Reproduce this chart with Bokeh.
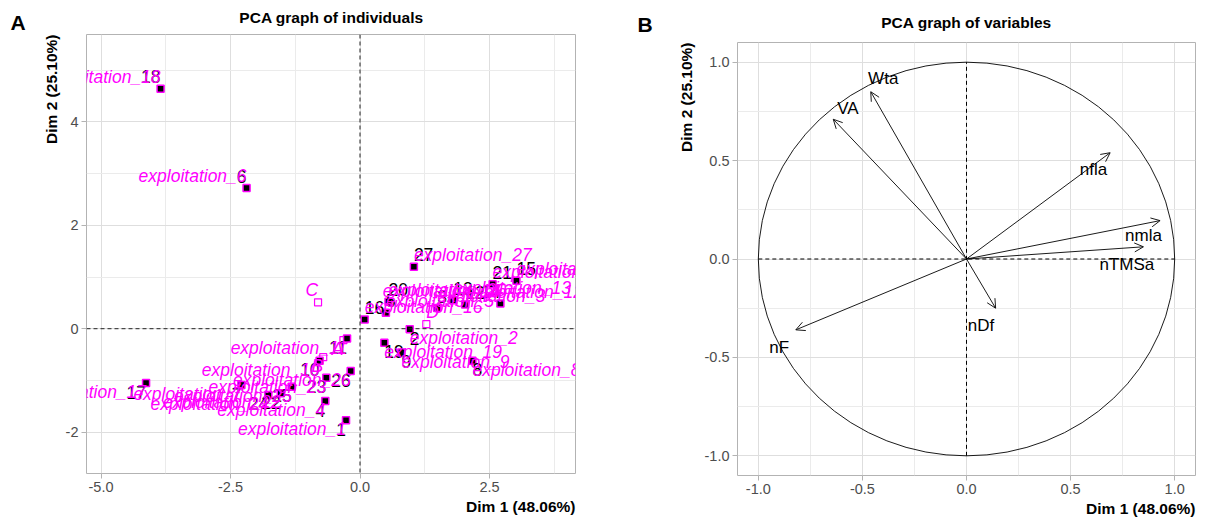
from bokeh.plotting import figure
from bokeh.models import (ColumnDataSource, Span, Title, FixedTicker, Arrow, OpenHead,
                          NumeralTickFormatter, Range1d)
from bokeh.layouts import row, column
from bokeh.embed import file_html
from bokeh.resources import INLINE
from bokeh.core.properties import value, field

# ---------------- data: individuals (PCA coordinates) ----------------
ind_ids = ["1", "2", "3", "4", "5", "6", "7", "8", "9", "10", "11", "12", "13", "14",
           "15", "16", "17", "18", "19", "20", "21", "22", "23", "24", "25", "26", "27"]
ind_dim1 = [-0.27, 0.96, 1.49, -0.67, 0.50, -2.19, -2.29, 2.17, 0.80, -0.78, -0.25, 2.03, 1.80, 2.71,
            3.02, 0.09, -4.13, -3.85, 0.47, 0.55, 2.56, -1.53, -0.65, -1.77, -1.32, -0.18, 1.04]
ind_dim2 = [-1.77, -0.01, 0.40, -1.40, 0.31, 2.72, -1.09, -0.62, -0.46, -0.62, -0.19, 0.47, 0.55, 0.49,
            0.93, 0.18, -1.05, 4.64, -0.27, 0.52, 0.86, -1.25, -0.95, -1.28, -1.12, -0.82, 1.20]
ind_label_side = ["below", "below", "above", "below", "above", "above", "below", "below", "below",
                  "below", "below", "above", "above", "above", "above", "above", "below", "above",
                  "below", "above", "above", "below", "below", "below", "below", "below", "above"]
ind_label_align = ["right", "left", "left", "right", "left", "right", "right", "left", "left",
                   "right", "right", "left", "left", "right", "left", "left", "right", "right",
                   "left", "left", "left", "right", "right", "right", "right", "right", "left"]

sup_ids = ["A", "B", "C", "D"]
sup_dim1 = [-0.32, -0.71, -0.81, 1.28]
sup_dim2 = [-0.22, -0.55, 0.51, 0.09]
sup_label_side = ["below", "below", "above", "above"]
sup_label_align = ["right", "right", "right", "left"]

# ---------------- data: variables (correlation circle) ----------------
var_names = ["Wta", "VA", "nfla", "nmla", "nTMSa", "nDf", "nF"]
var_dim1 = [-0.46, -0.64, 0.69, 0.93, 0.85, 0.14, -0.82]
var_dim2 = [0.85, 0.71, 0.54, 0.195, 0.062, -0.25, -0.36]
var_label_x = [-0.40, -0.57, 0.61, 0.85, 0.77, 0.07, -0.90]
var_label_y = [0.915, 0.765, 0.453, 0.12, -0.03, -0.34, -0.45]

dim1_title = "Dim 1 (48.06%)"
dim2_title = "Dim 2 (25.10%)"

FONT = "Liberation Sans"
MAG = "#FF00FF"
GRID_MAJOR = "#DEDEDE"
GRID_MINOR = "#EBEBEB"
BORDER = "#B3B3B3"
TICKTXT = "#4D4D4D"


def style(p, xt, xm, yt, ym, xfmt, yfmt):
    p.outline_line_color = BORDER
    p.outline_line_width = 1
    p.background_fill_color = "white"
    p.border_fill_color = "white"
    p.xaxis.ticker = FixedTicker(ticks=xt, minor_ticks=xm)
    p.yaxis.ticker = FixedTicker(ticks=yt, minor_ticks=ym)
    p.xaxis.formatter = NumeralTickFormatter(format=xfmt)
    p.yaxis.formatter = NumeralTickFormatter(format=yfmt)
    for ax in (p.xaxis, p.yaxis):
        ax.axis_line_color = None
        ax.major_tick_line_color = BORDER
        ax.major_tick_out = 5
        ax.major_tick_in = 0
        ax.minor_tick_line_color = None
        ax.major_label_text_color = TICKTXT
        ax.major_label_text_font = FONT
        ax.major_label_text_font_size = "14.5px"
        ax.major_label_standoff = 3
    for g in (p.xgrid, p.ygrid):
        g.grid_line_color = GRID_MAJOR
        g.grid_line_width = 1
        g.minor_grid_line_color = GRID_MINOR
        g.minor_grid_line_width = 1


def axis_titles(p, left_standoff, below_standoff):
    p.add_layout(Title(text=dim1_title, align="right", text_font=FONT, text_font_style="bold",
                       text_font_size="15.5px", text_color="black", standoff=below_standoff),
                 "below")
    p.add_layout(Title(text=dim2_title, align="right", text_font=FONT, text_font_style="bold",
                       text_font_size="15.5px", text_color="black", standoff=left_standoff),
                 "left")


def strip(width, height, letter, letter_x, letter_y, letter_base, title, title_x, title_y):
    s = figure(width=width, height=height, x_range=Range1d(0, width), y_range=Range1d(0, height),
               output_backend="svg", toolbar_location=None, title=None,
               x_axis_type=None, y_axis_type=None, min_border=0, frame_align=False)
    s.outline_line_color = None
    s.background_fill_color = "white"
    s.border_fill_color = "white"
    s.text(x=[letter_x], y=[letter_y], text=[letter], text_align="left", text_baseline=letter_base,
           text_font=value(FONT), text_font_style="bold", text_font_size="21px", text_color="black")
    s.text(x=[title_x], y=[title_y], text=[title], text_align="center", text_baseline="middle",
           text_font=value(FONT), text_font_style="bold", text_font_size="15.5px", text_color="black")
    return s


# ---------------- panel A ----------------
xr1 = (-5.28, 4.16)
yr1 = (-2.80, 5.69)
p1 = figure(width=620, height=486, x_range=Range1d(*xr1), y_range=Range1d(*yr1),
            output_backend="svg", toolbar_location=None, title=None, frame_align=False,
            min_border_left=86, min_border_right=45, min_border_top=0, min_border_bottom=47)
style(p1, [-5, -2.5, 0, 2.5], [-3.75, -1.25, 1.25, 3.75], [-2, 0, 2, 4], [-1, 1, 3, 5], "0.0", "0")
p1.add_layout(Span(location=0, dimension="height", line_color="#222222", line_width=1, line_dash="4 3"))
p1.add_layout(Span(location=0, dimension="width", line_color="#222222", line_width=1, line_dash="4 3"))

ind_src = ColumnDataSource(dict(
    x=ind_dim1, y=ind_dim2, num=ind_ids,
    name=["exploitation_" + i for i in ind_ids],
    align=ind_label_align,
    yoff=[-12 if s == "above" else 9 for s in ind_label_side],
))
sup_src = ColumnDataSource(dict(
    x=sup_dim1, y=sup_dim2, name=sup_ids, align=sup_label_align,
    yoff=[-12 if s == "above" else 9 for s in sup_label_side],
))

p1.scatter(x="x", y="y", source=sup_src, marker="square", size=7, fill_color=None,
           line_color=MAG, line_width=1.2)
p1.scatter(x="x", y="y", source=ind_src, marker="square", size=7, fill_color="black",
           line_color=MAG, line_width=1.5)
p1.text(x="x", y="y", text="num", source=ind_src, text_align=field("align"),
        y_offset=field("yoff"), text_baseline="middle", text_color="black",
        text_font=value(FONT), text_font_size="17.5px")
p1.text(x="x", y="y", text="name", source=ind_src, text_align=field("align"),
        y_offset=field("yoff"), text_baseline="middle", text_color=MAG,
        text_font=value(FONT), text_font_style="italic", text_font_size="17.5px")
p1.text(x="x", y="y", text="name", source=sup_src, text_align=field("align"),
        y_offset=field("yoff"), text_baseline="middle", text_color=MAG,
        text_font=value(FONT), text_font_style="italic", text_font_size="17.5px")
axis_titles(p1, 6, 2)
top1 = strip(620, 34, "A", 10, 0.5, "bottom", "PCA graph of individuals", 331, 17)

# ---------------- panel B ----------------
xr2 = (-1.1, 1.1)
yr2 = (-1.1, 1.1)
p2 = figure(width=589, height=480, x_range=Range1d(*xr2), y_range=Range1d(*yr2),
            output_backend="svg", toolbar_location=None, title=None, frame_align=False,
            min_border_left=117, min_border_right=14, min_border_top=2, min_border_bottom=45)
style(p2, [-1, -0.5, 0, 0.5, 1], [-0.75, -0.25, 0.25, 0.75], [-1, -0.5, 0, 0.5, 1],
      [-0.75, -0.25, 0.25, 0.75], "0.0", "0.0")
p2.ellipse(x=0, y=0, width=2, height=2, fill_color=None, line_color="black", line_width=0.9)
p2.segment(x0=[-1, 0], y0=[0, -1], x1=[1, 0], y1=[0, 1], line_color="black",
           line_width=1, line_dash="4 3")
var_src = ColumnDataSource(dict(x0=[0.0] * len(var_names), y0=[0.0] * len(var_names),
                                x1=var_dim1, y1=var_dim2))
p2.add_layout(Arrow(source=var_src, x_start="x0", y_start="y0", x_end="x1", y_end="y1",
                    line_color="black", line_width=0.9,
                    end=OpenHead(size=9, line_color="black", line_width=0.9)))
lab_src = ColumnDataSource(dict(x=var_label_x, y=var_label_y, t=var_names))
p2.text(x="x", y="y", text="t", source=lab_src, text_align="center", text_baseline="middle",
        text_color="black", text_font=value(FONT), text_font_size="17px")
axis_titles(p2, 14, 2)
top2 = strip(589, 40, "B", 17, 16.5, "middle", "PCA graph of variables", 346, 18)

layout = row(column(top1, p1), column(top2, p2))
open("out.html", "w").write(file_html(layout, INLINE))
